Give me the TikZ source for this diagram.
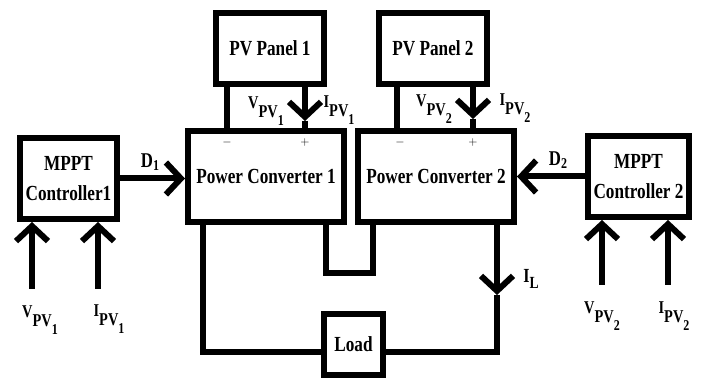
\documentclass[tikz,border=0pt]{standalone}
\usepackage{fontspec}
\setmainfont{Liberation Serif}[FakeStretch=0.8]
\usetikzlibrary{arrows.meta}
\newcommand{\pvsub}[3]{#1\raisebox{-1.1ex}{#2\raisebox{-0.9ex}{\fontsize{15}{16}\selectfont #3}}}

\begin{document}
\begin{tikzpicture}[x=1pt,y=-1pt,
  box/.style={draw,line width=6pt,inner sep=0pt,align=center,
    font=\fontsize{21.5}{22}\selectfont\bfseries},
  wire/.style={line width=6pt},
  arr/.style={line width=6pt,-{Straight Barb[length=15pt,width=32pt]}},
  lbl/.style={inner sep=0pt,font=\fontsize{18}{20}\selectfont\bfseries},
  sgn/.style={inner sep=0pt,font=\fontsize{12}{13}\selectfont}]
  \useasboundingbox (0,0) rectangle (705,379);

  % blocks
  \node[box,minimum width=108,minimum height=71] (pv1) at (270,48.5) {PV Panel 1};
  \node[box,minimum width=108,minimum height=71] (pv2) at (433,48.5) {PV Panel 2};
  \node[box,minimum width=156,minimum height=91] (pc1) at (266,176.5) {Power Converter 1};
  \node[box,minimum width=156,minimum height=91] (pc2) at (436,176.5) {Power Converter 2};
  \node[box,minimum width=97,minimum height=81] (mppt1) at (68.5,178.5) {MPPT\\[8pt]Controller1};
  \node[box,minimum width=101,minimum height=81] (mppt2) at (638.5,176.5) {MPPT\\[8pt]Controller 2};
  \node[box,minimum width=59,minimum height=61] (load) at (353.5,344.5) {Load};

  % PV panel leads
  \coordinate (v1) at (227,0);
  \coordinate (i1) at (305,121);
  \coordinate (v2) at (397,0);
  \coordinate (i2) at (473,119);
  \draw[wire] (pv1.south -| v1) -- (pc1.north -| v1);
  \draw[arr] (pv1.south -| i1) -- (i1);
  \draw[wire] (i1) -- (pc1.north -| i1);
  \draw[wire] (pv2.south -| v2) -- (pc2.north -| v2);
  \draw[arr] (pv2.south -| i2) -- (i2);
  \draw[wire] (i2) -- (pc2.north -| i2);
  \node[sgn] (m1) at (227,143) {$-$};
  \node[sgn] (p1) at (305,143) {$+$};
  \node[sgn] (m2) at (400,143) {$-$};
  \node[sgn] (p2) at (473,143) {$+$};
  \node[lbl] (lv1) at (266,111) {\pvsub{V}{PV}{1}};
  \node[lbl] (li1) at (339,110) {\pvsub{I}{PV}{1}};
  \node[lbl] (lv2) at (434,109) {\pvsub{V}{PV}{2}};
  \node[lbl] (li2) at (515,108) {\pvsub{I}{PV}{2}};

  % duty cycles
  \draw[arr] (mppt1.east) -- (mppt1.east -| pc1.west);
  \draw[arr] (mppt2.west) -- (mppt2.west -| pc2.east);
  \node[lbl,font=\fontsize{21}{22}\selectfont\bfseries] (d1) at (150,162) {D\raisebox{-0.3ex}{\fontsize{15}{16}\selectfont 1}};
  \node[lbl,font=\fontsize{21}{22}\selectfont\bfseries] (d2) at (558,160) {D\raisebox{-0.3ex}{\fontsize{15}{16}\selectfont 2}};

  % controller inputs
  \coordinate (a1) at (32,289);
  \coordinate (b1) at (98,289);
  \coordinate (a2) at (602,285);
  \coordinate (b2) at (668,285);
  \draw[arr] (a1) -- (a1 |- mppt1.south);
  \draw[arr] (b1) -- (b1 |- mppt1.south);
  \draw[arr] (a2) -- (a2 |- mppt2.south);
  \draw[arr] (b2) -- (b2 |- mppt2.south);
  \node[lbl] (la1) at (40,320) {\pvsub{V}{PV}{1}};
  \node[lbl] (lb1) at (109,319) {\pvsub{I}{PV}{1}};
  \node[lbl] (la2) at (602,316) {\pvsub{V}{PV}{2}};
  \node[lbl] (lb2) at (674,316) {\pvsub{I}{PV}{2}};

  % series link and load loop
  \coordinate (ml) at (325.5,273);
  \coordinate (mr) at (372.5,273);
  \draw[wire] (pc1.south -| ml) -- (ml) -- (mr) -- (pc2.south -| mr);
  \coordinate (bl) at (203,352);
  \coordinate (br) at (497,352);
  \coordinate (il) at (497,295);
  \draw[wire] (pc1.south -| bl) -- (bl) -- (load.west |- bl);
  \draw[arr] (pc2.south -| il) -- (il);
  \draw[wire] (il) -- (br) -- (load.east |- br);
  \node[lbl,font=\fontsize{20}{22}\selectfont\bfseries] (lil) at (531,279) {I\raisebox{-0.6ex}{\fontsize{17}{18}\selectfont L}};
\end{tikzpicture}
\end{document}
